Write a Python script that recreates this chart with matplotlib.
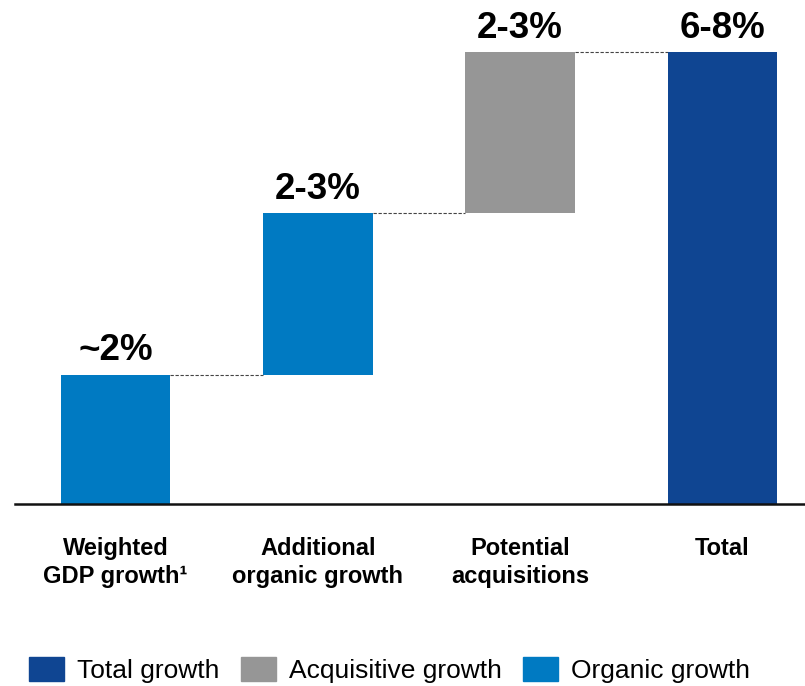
import matplotlib
matplotlib.use("Agg")
import matplotlib.pyplot as plt
from matplotlib.patches import Patch

plt.rcParams["font.family"] = ["Liberation Sans", "DejaVu Sans"]

# Data
categories = ["Weighted\nGDP growth\u00b9", "Additional\norganic growth", "Potential\nacquisitions", "Total"]
steps = [2.0, 2.5, 2.5]          # waterfall increments
total = 7.0
value_labels = ["~2%", "2-3%", "2-3%", "6-8%"]
legend_labels = ["Total growth", "Acquisitive growth", "Organic growth"]

c_total = "#0F4592"
c_acq = "#969696"
c_org = "#007AC2"
bar_colors = [c_org, c_org, c_acq, c_total]

# waterfall bottoms / heights
bottoms = []
run = 0
for s in steps:
    bottoms.append(run)
    run += s
bottoms.append(0)
heights = steps + [total]
tops = [b + h for b, h in zip(bottoms, heights)]

fig = plt.figure(figsize=(8.05, 6.86), dpi=100)
ax = fig.add_axes([15 / 805, (686 - 503.5) / 686, 790 / 805, 503.5 / 686])

x = range(len(categories))
width = 0.543
ax.bar(x, heights, bottom=bottoms, width=width, color=bar_colors, zorder=2)

# connectors
for i in range(len(categories) - 1):
    ax.plot([i + width / 2, i + 1 - width / 2], [tops[i], tops[i]],
            ls=(0, (3, 1.5)), color="#444444", lw=0.8, zorder=1)

# value labels
for i, t in enumerate(tops):
    ax.annotate(value_labels[i], (i, t), xytext=(0, 10.5), textcoords="offset points",
                ha="center", va="baseline", fontsize=26.5, fontweight="bold")

ax.set_xlim(-0.497, 3.408)
ax.set_ylim(0, 7.81)
ax.set_xticks(list(x))
ax.set_xticklabels(categories, fontsize=17, fontweight="bold", linespacing=1.3)
ax.tick_params(axis="x", length=0, pad=24)
ax.set_yticks([])
for sp in ["top", "left", "right"]:
    ax.spines[sp].set_visible(False)
ax.spines["bottom"].set_linewidth(1.8)
ax.spines["bottom"].set_color("#111111")

handles = [Patch(color=c) for c in [c_total, c_acq, c_org]]
fig.legend(handles, legend_labels, loc="lower left",
           bbox_to_anchor=(29 / 805, 3 / 686), ncol=3, frameon=False,
           fontsize=19, handlelength=1.33, handleheight=0.98,
           handletextpad=0.49, columnspacing=0.8, borderpad=0, borderaxespad=0)

fig.savefig("out.png", dpi=100)
